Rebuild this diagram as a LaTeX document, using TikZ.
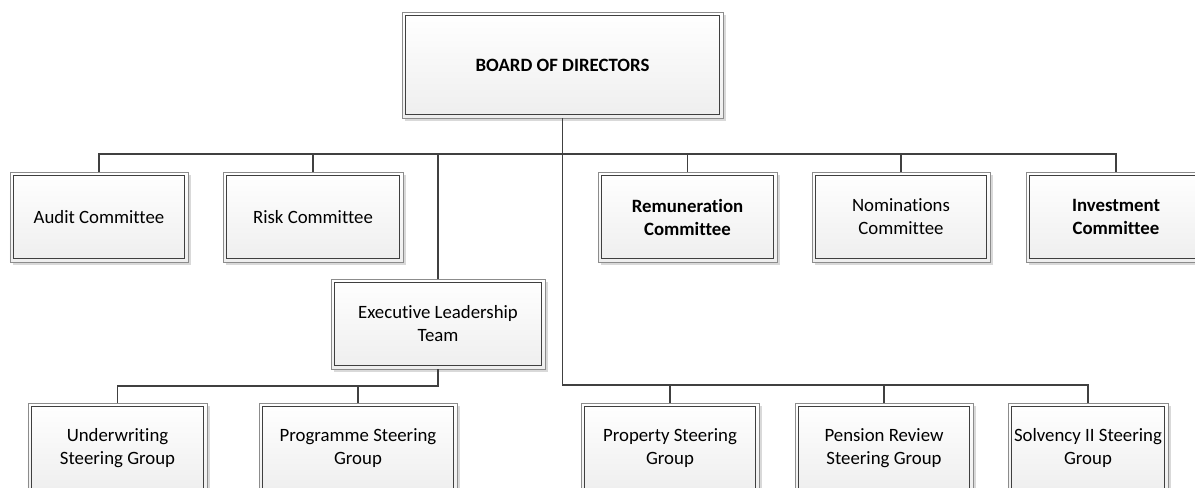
\documentclass[tikz,border=0pt]{standalone}
\usepackage{fontspec}
\setmainfont{Carlito}[Ligatures=CommonOff]
\usetikzlibrary{shadows}

\definecolor{framec}{HTML}{8C8C8C}
\definecolor{innerc}{HTML}{3F3F3F}
\definecolor{linec}{HTML}{404040}
\definecolor{fillbot}{HTML}{EEEEEE}
\definecolor{shadowc}{HTML}{D9D9D9}

\tikzset{
  orgbox/.style={
    draw=framec, line width=0.9bp, inner sep=0pt,
    top color=white, bottom color=fillbot,
    align=center, font=\fontsize{18.8bp}{23bp}\selectfont,
    drop shadow={shadow xshift=3bp, shadow yshift=-3bp, fill=shadowc, opacity=1},
    path picture={
      \draw[innerc, line width=1.2bp]
        ([xshift=3.8bp,yshift=-3.8bp]path picture bounding box.north west) rectangle
        ([xshift=-3.8bp,yshift=3.8bp]path picture bounding box.south east);
    }
  },
  conn/.style={draw=linec, line width=1.8bp}
}

\begin{document}
\begin{tikzpicture}[x=1bp, y=-1bp]
  \useasboundingbox (0,0) rectangle (1195,488);
  \clip (0,0) rectangle (1195,488);

  % bus levels
  \coordinate (tb) at (0,154);
  \coordinate (lb) at (0,386);
  \coordinate (rb) at (0,385);

  % board
  \node[orgbox, minimum width=321bp, minimum height=106bp] (board) at (562.5,65) {\bfseries BOARD OF DIRECTORS};

  % committees
  \node[orgbox, minimum width=178bp, minimum height=90bp] (audit)  at (99,217)    {Audit Committee};
  \node[orgbox, minimum width=180bp, minimum height=90bp] (risk)   at (313,217)   {Risk Committee};
  \node[orgbox, minimum width=179bp, minimum height=90bp] (remun)  at (687.5,217) {\bfseries Remuneration\\\bfseries Committee};
  \node[orgbox, minimum width=178bp, minimum height=90bp] (nomin)  at (901,217)   {Nominations\\Committee};
  \node[orgbox, minimum width=180bp, minimum height=90bp] (invest) at (1116,217)  {\bfseries Investment\\\bfseries Committee};

  % executive team
  \node[orgbox, minimum width=214bp, minimum height=90bp] (elt) at (438,324) {Executive Leadership\\Team};

  % steering groups
  \node[orgbox, minimum width=179bp, minimum height=90bp] (under) at (117.5,448) {Underwriting\\Steering Group};
  \node[orgbox, minimum width=198bp, minimum height=90bp] (prog)  at (358,448)   {Programme Steering\\Group};
  \node[orgbox, minimum width=178bp, minimum height=90bp] (prop)  at (670,448)   {Property Steering\\Group};
  \node[orgbox, minimum width=178bp, minimum height=90bp] (pens)  at (884,448)   {Pension Review\\Steering Group};
  \node[orgbox, minimum width=160bp, minimum height=90bp] (solv)  at (1088,448)  {Solvency II Steering\\Group};

  % board to committees
  \draw[conn] (board.south) -- (board.south |- tb);
  \draw[conn] (audit.north) -- (audit.north |- tb) -- (invest.north |- tb) -- (invest.north);
  \draw[conn] (risk.north)  -- (risk.north |- tb);
  \draw[conn] (remun.north) -- (remun.north |- tb);
  \draw[conn] (nomin.north) -- (nomin.north |- tb);
  \draw[conn] (elt.north)   -- (elt.north |- tb);

  % board to right-hand steering groups
  \draw[conn] (board.south) -- (board.south |- rb) -- (solv.north |- rb) -- (solv.north);
  \draw[conn] (prop.north) -- (prop.north |- rb);
  \draw[conn] (pens.north) -- (pens.north |- rb);

  % executive team to left-hand steering groups
  \draw[conn] (elt.south) -- (elt.south |- lb) -- (under.north |- lb) -- (under.north);
  \draw[conn] (prog.north) -- (prog.north |- lb);
\end{tikzpicture}
\end{document}
